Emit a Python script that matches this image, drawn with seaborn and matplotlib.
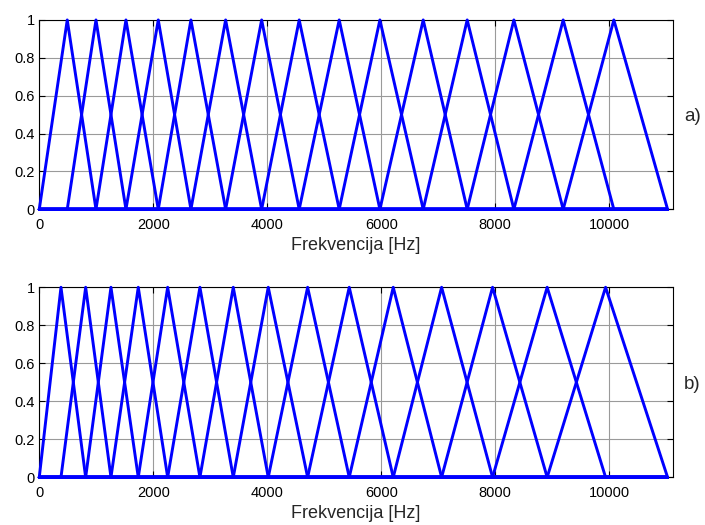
import numpy as np
import pandas as pd
import matplotlib
matplotlib.use("Agg")
import matplotlib.pyplot as plt
import seaborn as sns

sns.set_theme(style="white")
plt.rcParams['font.family'] = ['Liberation Sans', 'DejaVu Sans']

fs_half = 11025
# peak (centre) frequencies of the triangular filters
peaks_a = [491, 995, 1521, 2088, 2661, 3270, 3902, 4561, 5263, 5977,
           6737, 7509, 8328, 9193, 10082]
peaks_b = [381, 814, 1258, 1737, 2253, 2819, 3404, 4018, 4709, 5439,
           6211, 7060, 7954, 8912, 9937]
xticks = [0, 2000, 4000, 6000, 8000, 10000]
yticks = [0, 0.2, 0.4, 0.6, 0.8, 1.0]
ytick_labels = ["0", "0.2", "0.4", "0.6", "0.8", "1"]
xlabel = "Frekvencija [Hz]"
panel_labels = ["a)", "b)"]


def build_frame(peaks):
    edges = [0] + list(peaks) + [fs_half]
    rows = []
    for i in range(len(peaks)):
        lo, pk, hi = edges[i], edges[i + 1], edges[i + 2]
        pts = [(0, 0.0), (lo, 0.0), (pk, 1.0), (hi, 0.0), (fs_half, 0.0)]
        for j, (f, a) in enumerate(pts):
            rows.append({"freq": f, "amp": a, "filt": i, "order": j})
    return pd.DataFrame(rows)


fig = plt.figure(figsize=(7.05, 5.25), dpi=100)
ax_a = fig.add_axes([0.0557, 0.6013, 0.8989, 0.3607])
ax_b = fig.add_axes([0.0557, 0.0909, 0.8989, 0.3619])

for ax, peaks, lab in zip([ax_a, ax_b], [peaks_a, peaks_b], panel_labels):
    df = build_frame(peaks)
    sns.lineplot(data=df, x="freq", y="amp", units="filt", estimator=None,
                 sort=False, color="#0000ff", linewidth=2.1, ax=ax,
                 legend=False)
    for ln in ax.lines:
        ln.set_clip_on(False)
        ln.set_zorder(3)
    ax.set_xlim(0, 11120)
    ax.set_ylim(0, 1)
    ax.set_xticks(xticks)
    ax.set_xticklabels([str(t) for t in xticks])
    ax.set_yticks(yticks)
    ax.set_yticklabels(ytick_labels)
    ax.grid(True, color="#9a9a9a", linewidth=0.8)
    ax.set_axisbelow(True)
    ax.tick_params(direction="in", length=4, width=0.8, top=True, right=True,
                   labelsize=10.5, colors="black",
                   bottom=True, left=True)
    ax.tick_params(axis="x", pad=6)
    ax.tick_params(axis="y", pad=3)
    for sp in ax.spines.values():
        sp.set_color("black")
        sp.set_linewidth(0.8)
        sp.set_visible(True)
    ax.set_xlabel(xlabel, fontsize=13, labelpad=4)
    ax.set_ylabel("")
    ax.text(1.0174, 0.49, lab, transform=ax.transAxes, fontsize=13.5,
            ha="left", va="center")

fig.savefig("out.png", dpi=100)
